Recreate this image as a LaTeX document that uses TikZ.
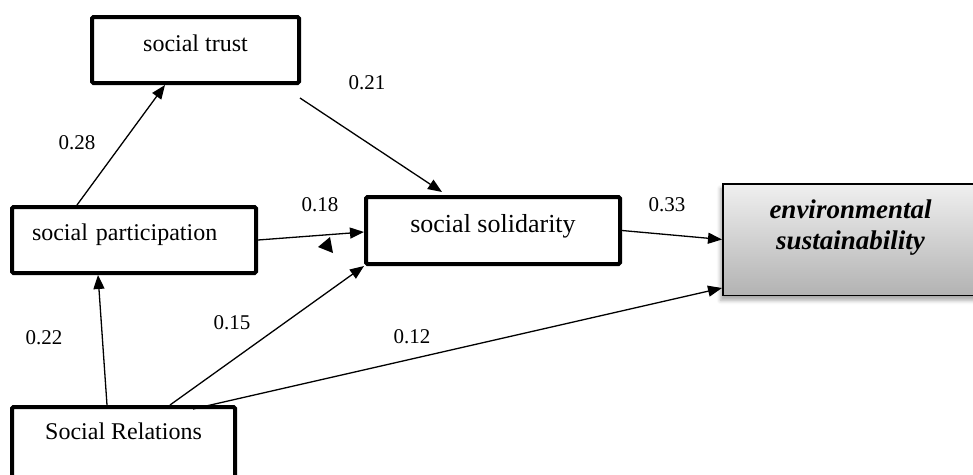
\documentclass[tikz,border=0pt]{standalone}
\usepackage{fontspec}
\setmainfont{Liberation Serif}
\usetikzlibrary{arrows.meta, shadows.blur}

\begin{document}
\begin{tikzpicture} [
    x=1pt, y=-1pt,
    box/.style={draw, line width=4pt, rounded corners=1.5pt, inner sep=0pt,
        text height=17pt, font=\fontsize{24}{28}\selectfont},
    envbox/.style={draw, line width=1.5pt, inner sep=0pt, align=center,
        top color=black!6, bottom color=black!30,
        blur shadow={shadow xshift=-2pt, shadow yshift=-5pt,
            shadow blur radius=4pt, shadow opacity=35},
        font=\fontsize{27}{31}\selectfont\bfseries\itshape},
    coef/.style={inner sep=0pt, font=\fontsize{21}{25}\selectfont},
    path arrow/.style={-{Triangle[length=14pt, width=11pt]}, line width=1.3pt}]

\useasboundingbox (0,0) rectangle (973,474);

% Box social trust
\node (trust) [box,
    minimum width=207pt, minimum height=66pt,
    text depth=15pt] at (195.5,50) {social trust};

% Box social participation
\node (part) [box,
    minimum width=244pt, minimum height=66pt,
    inner xsep=20pt, text width=204pt, align=left,
    text depth=17pt] at (134,240) {social participation};

% Box social solidarity
\node (soli) [box,
    minimum width=254pt, minimum height=67pt,
    font=\fontsize{26}{30}\selectfont,
    text depth=12.6pt] at (493,230.5) {social solidarity};

% Box Social Relations
\node (rel) [box,
    minimum width=223pt, minimum height=81pt,
    text depth=33.4pt] at (123.5,447.5) {Social Relations};

% Box environmental sustainability
\node (env) [envbox,
    minimum width=255.5pt, minimum height=111.5pt,
    text depth=30.4pt] at (850.5,239.5) {environmental\\sustainability};

% Arrows
\path [path arrow]
    ([xshift=67pt]part.north west) edge ([xshift=75pt]trust.south west)
    ([xshift=-1pt, yshift=-13pt]trust.south east) edge ([xshift=78pt, yshift=3pt]soli.north west)
    (part.east) edge ([yshift=-1.5pt]soli.west)
    ([xshift=97pt]rel.north west) edge ([xshift=88pt]part.south west)
    ([xshift=160pt]rel.north west) edge (soli.south west)
    ([xshift=183pt, yshift=-4pt]rel.north west) edge ([yshift=8pt]env.south west)
    (soli.east) edge (env.west);

% Loose arrowhead
\fill (330,237) -- (318,247) -- (333,253) -- cycle;

% Path coefficients
\node (c1) [coef] at (77,143) {0.28};
\node (c2) [coef] at (367,83) {0.21};
\node (c3) [coef] at (320,205) {0.18};
\node (c4) [coef] at (667,205) {0.33};
\node (c5) [coef] at (44,338) {0.22};
\node (c6) [coef] at (232,323) {0.15};
\node (c7) [coef] at (412,337) {0.12};
\end{tikzpicture}
\end{document}
